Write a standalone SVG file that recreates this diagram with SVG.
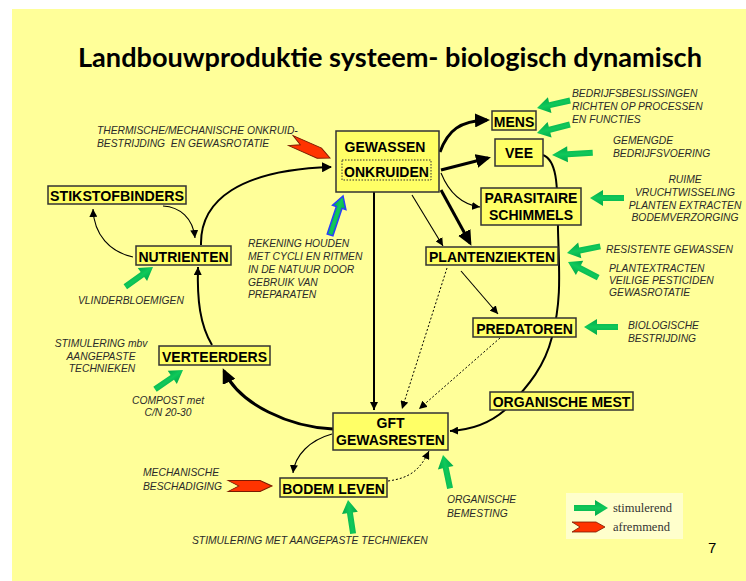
<svg xmlns="http://www.w3.org/2000/svg" xmlns:xlink="http://www.w3.org/1999/xlink" width="746" height="581" viewBox="0 0 746 581">
<style>
.node{fill:#ffff66;stroke:#333;stroke-width:1.5}
.nt{font-family:"Liberation Sans",Arial,sans-serif;font-weight:bold;font-size:14px;fill:#000;text-anchor:middle}
.ann{font-family:"Liberation Sans",Arial,sans-serif;font-style:italic;font-size:10.3px;fill:#2a2a2a}
.c{fill:none;stroke:#000}
.thin{stroke-width:1.1}
.med{stroke-width:2}
.thick{stroke-width:3}
.dot{stroke-width:1;stroke-dasharray:2 2}
.leg{font-family:"Liberation Serif","Times New Roman",serif;font-size:12.5px;fill:#333}
</style>
<defs>
<linearGradient id="gg" x1="0" y1="0" x2="0" y2="1">
<stop offset="0" stop-color="#00a84a"/>
<stop offset="0.5" stop-color="#10c95a"/>
<stop offset="1" stop-color="#00a84a"/>
</linearGradient>
<path id="ga" d="M0,0 L-13,-8 L-13,-3 L-34,-3 L-34,3 L-13,3 L-13,8 Z" fill="url(#gg)"/>
<path id="ra" d="M0,0 L-9,-5 L-33,-5 L-25,0 L-33,5 L-9,5 Z" fill="#ff3300" stroke="#7a1a00" stroke-width="0.8"/>
<marker id="as" viewBox="0 0 8 8" refX="8" refY="4" markerWidth="8" markerHeight="8" markerUnits="userSpaceOnUse" orient="auto"><path d="M0,0 L8,4 L0,8 Z" fill="#000"/></marker>
<marker id="am" viewBox="0 0 10 10" refX="9" refY="5" markerWidth="10" markerHeight="10" markerUnits="userSpaceOnUse" orient="auto"><path d="M0,0 L10,5 L0,10 Z" fill="#000"/></marker>
<marker id="al" viewBox="0 0 15 14" refX="12" refY="7" markerWidth="15" markerHeight="14" markerUnits="userSpaceOnUse" orient="auto"><path d="M0,0 L15,7 L0,14 Z" fill="#000"/></marker>
</defs>
<rect x="0" y="0" width="746" height="581" fill="#fff"/>
<rect x="12" y="9" width="734" height="572" fill="#ffff99"/>
<text x="78" y="67" font-family="Lato,'Open Sans',sans-serif" font-weight="bold" font-size="27" fill="#000" textLength="624" lengthAdjust="spacingAndGlyphs">Landbouwproduktie systeem- biologisch dynamisch</text>

<g id="connectors">
<path class="c med" d="M201,245 C200,200 240,170 331,167" marker-end="url(#am)"/>
<path class="c thin" d="M163,206 C180,207 193,218 195,238" marker-end="url(#as)"/>
<path class="c thin" d="M133,257 C110,252 94,235 93,209" marker-end="url(#as)"/>
<path class="c med" d="M212,345 C200,325 197,300 198,267" marker-end="url(#as)"/>
<path class="c thick" d="M333,429 C290,427 240,405 224,371" marker-end="url(#al)"/>
<path class="c thick" d="M440,152 C448,130 460,121 487,120" marker-end="url(#al)"/>
<path class="c thick" d="M441,170 L488,158" marker-end="url(#al)"/>
<path class="c thin" d="M441,173 C450,195 465,205 480,207" marker-end="url(#as)"/>
<path class="c thick" d="M441,190 L470,243" marker-end="url(#al)"/>
<path class="c thin" d="M412,195 L443,246" marker-end="url(#as)"/>
<path class="c med" d="M374,192 L374,410" marker-end="url(#as)"/>
<path class="c dot" d="M447,268 L402,409" marker-end="url(#as)"/>
<path class="c dot" d="M500,338 L419,409" marker-end="url(#as)"/>
<path class="c thin" d="M461,271 L498,314" marker-end="url(#as)"/>
<path class="c med" d="M543,155 C556,160 558,180 558,230 C559,270 562,300 552,337 C545,365 530,385 505,410 C490,423 470,430 450,431" marker-end="url(#as)"/>
<path class="c thin" d="M332,434 C310,440 295,455 293,473" marker-end="url(#as)"/>
<path class="c dot" d="M388,481 C410,478 420,470 429,451" marker-end="url(#as)"/>
</g>

<g id="gewassen">
<rect class="node" x="336" y="131" width="103" height="61"/>
<text class="nt" x="385" y="152">GEWASSEN</text>
<rect x="342" y="160" width="89" height="20" fill="none" stroke="#333" stroke-width="1" stroke-dasharray="1.5 1.5"/>
<text class="nt" x="386.5" y="177">ONKRUIDEN</text>
</g>
<g id="mens"><rect class="node" x="492" y="111" width="44" height="19"/><text class="nt" x="514" y="127">MENS</text></g>
<g id="vee"><rect class="node" x="495" y="139" width="48" height="27"/><text class="nt" x="519" y="158">VEE</text></g>
<g id="parasitaire"><rect class="node" x="481" y="188" width="100" height="37"/><text class="nt" x="531" y="203">PARASITAIRE</text><text class="nt" x="531" y="220">SCHIMMELS</text></g>
<g id="plantenziekten"><rect class="node" x="426" y="247" width="132" height="18"/><text class="nt" x="492" y="262">PLANTENZIEKTEN</text></g>
<g id="predatoren"><rect class="node" x="473" y="318" width="103" height="19"/><text class="nt" x="524.5" y="334">PREDATOREN</text></g>
<g id="organische-mest"><rect class="node" x="490" y="392" width="143" height="18"/><text class="nt" x="561.5" y="407">ORGANISCHE MEST</text></g>
<g id="gft"><rect class="node" x="333" y="413" width="115" height="37"/><text class="nt" x="390.5" y="428">GFT</text><text class="nt" x="390.5" y="445">GEWASRESTEN</text></g>
<g id="bodem-leven"><rect class="node" x="280" y="478" width="107" height="19"/><text class="nt" x="333.5" y="494">BODEM LEVEN</text></g>
<g id="verteerders"><rect class="node" x="159" y="346" width="111" height="19"/><text class="nt" x="214.5" y="362">VERTEERDERS</text></g>
<g id="nutrienten"><rect class="node" x="136" y="246" width="95" height="19"/><text class="nt" x="183.5" y="262">NUTRIENTEN</text></g>
<g id="stikstofbinders"><rect class="node" x="48" y="186" width="138" height="18"/><text class="nt" x="117" y="201" textLength="134" lengthAdjust="spacingAndGlyphs">STIKSTOFBINDERS</text></g>

<g id="influences">
<use href="#ga" transform="translate(537,108) rotate(167.3)"/>
<use href="#ga" transform="translate(537,133) rotate(165.5)"/>
<use href="#ga" transform="translate(552,155) rotate(177) scale(1.2,1)"/>
<use href="#ga" transform="translate(590,198) rotate(180)"/>
<use href="#ga" transform="translate(567,253) rotate(168.7)"/>
<use href="#ga" transform="translate(568,262) rotate(207.3)"/>
<use href="#ga" transform="translate(584,327) rotate(180)"/>
<use href="#ga" transform="translate(153,267) rotate(-35.5)"/>
<use href="#ga" transform="translate(183,370) rotate(-34.6)"/>
<use href="#ga" transform="translate(348,500) rotate(-98.6)"/>
<use href="#ga" transform="translate(443,455) rotate(-102)"/>
<path d="M0,0 L-12,-7 L-12,-3 L-41,-3 L-41,3 L-12,3 L-12,7 Z" fill="url(#gg)" stroke="#2a3cff" stroke-width="1.5" transform="translate(343,196) rotate(-71.6)"/>
<use href="#ra" transform="translate(330,158) rotate(24) scale(1.3,1.1)"/>
<use href="#ra" transform="translate(272,486) scale(1.33,1.1)"/>
</g>

<g id="annotations">
<text class="ann" x="97" y="134">THERMISCHE/MECHANISCHE ONKRUID-</text>
<text class="ann" x="97" y="147" style="white-space:pre">BESTRIJDING  EN GEWASROTATIE</text>
<text class="ann" x="572" y="97">BEDRIJFSBESLISSINGEN</text>
<text class="ann" x="572" y="110">RICHTEN OP PROCESSEN</text>
<text class="ann" x="572" y="123">EN FUNCTIES</text>
<text class="ann" x="613" y="144">GEMENGDE</text>
<text class="ann" x="613" y="157">BEDRIJFSVOERING</text>
<g text-anchor="middle">
<text class="ann" x="685" y="183">RUIME</text>
<text class="ann" x="685" y="196">VRUCHTWISSELING</text>
<text class="ann" x="685" y="209">PLANTEN EXTRACTEN</text>
<text class="ann" x="685" y="221">BODEMVERZORGING</text>
<text class="ann" x="101" y="347">STIMULERING mbv</text>
<text class="ann" x="101" y="360">AANGEPASTE</text>
<text class="ann" x="102" y="372">TECHNIEKEN</text>
<text class="ann" x="168" y="404">COMPOST met</text>
<text class="ann" x="168" y="416">C/N 20-30</text>
</g>
<text class="ann" x="606" y="253">RESISTENTE GEWASSEN</text>
<text class="ann" x="609" y="272">PLANTEXTRACTEN</text>
<text class="ann" x="609" y="284">VEILIGE PESTICIDEN</text>
<text class="ann" x="609" y="296">GEWASROTATIE</text>
<text class="ann" x="628" y="329">BIOLOGISCHE</text>
<text class="ann" x="628" y="342">BESTRIJDING</text>
<text class="ann" x="248" y="247">REKENING HOUDEN</text>
<text class="ann" x="248" y="260">MET CYCLI EN RITMEN</text>
<text class="ann" x="248" y="273">IN DE NATUUR DOOR</text>
<text class="ann" x="248" y="286">GEBRUIK VAN</text>
<text class="ann" x="248" y="298">PREPARATEN</text>
<text class="ann" x="78" y="304">VLINDERBLOEMIGEN</text>
<text class="ann" x="143" y="476">MECHANISCHE</text>
<text class="ann" x="143" y="490">BESCHADIGING</text>
<text class="ann" x="447" y="503">ORGANISCHE</text>
<text class="ann" x="447" y="517">BEMESTING</text>
<text class="ann" x="192" y="544">STIMULERING MET AANGEPASTE TECHNIEKEN</text>
</g>

<g id="legend">
<rect x="566" y="493" width="117" height="46" fill="#ffffcc"/>
<use href="#ga" transform="translate(608,508)"/>
<use href="#ra" transform="translate(605,527)"/>
<text class="leg" x="613" y="512">stimulerend</text>
<text class="leg" x="613" y="531">afremmend</text>
</g>
<text x="708" y="553" font-family="'Liberation Sans',Arial,sans-serif" font-size="15" fill="#000">7</text>
</svg>
